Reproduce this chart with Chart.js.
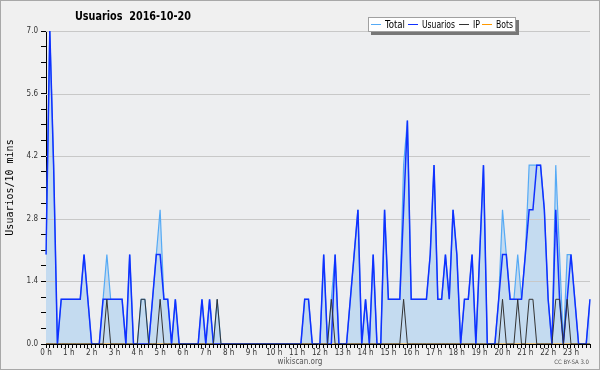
<!DOCTYPE html>
<html>
<head>
<meta charset="utf-8">
<script src="https://cdn.jsdelivr.net/npm/chart.js@4"></script>
<style>
  html, body { margin: 0; padding: 0; background: #f0f0f0; }
</style>
</head>
<body>
<canvas id="chart" width="600" height="370"></canvas>
<script>
// 10-minute slots over the day, 00:00 .. 23:50
const categories = [];
for (let h = 0; h < 24; h++) {
  for (let m = 0; m < 60; m += 10) categories.push(h + ':' + (m < 10 ? '0' : '') + m);
}

const totalValues = [
  2,7,4,0,1,1,1,1,1,1,2,1,
  0,0,0,1,2,1,1,1,1,0,2,0,
  0,1,1,0,1,2,3,1,1,0,1,0,
  0,0,0,0,0,1,0,1,0,1,0,0,
  0,0,0,0,0,0,0,0,0,0,0,0,
  0,0,0,0,0,0,0,0,1,1,0,0,
  0,2,0,1,2,0,0,0,1,2,3,0,
  1,0,2,0,0,3,1,1,1,1,4,5,
  1,1,1,1,1,2,4,1,1,2,1,3,
  2,0,1,1,2,0,2,4,0,0,0,1,
  3,2,1,1,2,1,2,4,4,4,4,3,
  1,0,4,2,0,2,2,1,0,0,0,1
];
const usuariosValues = [
  2,7,4,0,1,1,1,1,1,1,2,1,
  0,0,0,1,1,1,1,1,1,0,2,0,
  0,0,0,0,1,2,2,1,1,0,1,0,
  0,0,0,0,0,1,0,1,0,0,0,0,
  0,0,0,0,0,0,0,0,0,0,0,0,
  0,0,0,0,0,0,0,0,1,1,0,0,
  0,2,0,0,2,0,0,0,1,2,3,0,
  1,0,2,0,0,3,1,1,1,1,3,5,
  1,1,1,1,1,2,4,1,1,2,1,3,
  2,0,1,1,2,0,2,4,0,0,0,1,
  2,2,1,1,1,1,2,3,3,4,4,3,
  1,0,3,1,0,1,2,1,0,0,0,1
];
const ipValues = [
  0,0,0,0,0,0,0,0,0,0,0,0,
  0,0,0,0,1,0,0,0,0,0,0,0,
  0,1,1,0,0,0,1,0,0,0,0,0,
  0,0,0,0,0,0,0,0,0,1,0,0,
  0,0,0,0,0,0,0,0,0,0,0,0,
  0,0,0,0,0,0,0,0,0,0,0,0,
  0,0,0,1,0,0,0,0,0,0,0,0,
  0,0,0,0,0,0,0,0,0,0,1,0,
  0,0,0,0,0,0,0,0,0,0,0,0,
  0,0,0,0,0,0,0,0,0,0,0,0,
  1,0,0,0,1,0,0,1,1,0,0,0,
  0,0,1,1,0,1,0,0,0,0,0,0
];
const botsValues = [
  0,0,0,0,0,0,0,0,0,0,0,0,
  0,0,0,0,0,0,0,0,0,0,0,0,
  0,0,0,0,0,0,0,0,0,0,0,0,
  0,0,0,0,0,0,0,0,0,0,0,0,
  0,0,0,0,0,0,0,0,0,0,0,0,
  0,0,0,0,0,0,0,0,0,0,0,0,
  0,0,0,0,0,0,0,0,0,0,0,0,
  0,0,0,0,0,0,0,0,0,0,0,0,
  0,0,0,0,0,0,0,0,0,0,0,0,
  0,0,0,0,0,0,0,0,0,0,0,0,
  0,0,0,0,0,0,0,0,0,0,0,0,
  0,0,0,0,0,0,0,0,0,0,0,0
];
const yTicks = [0, 1.4, 2.8, 4.2, 5.6, 7.0];

const COND = '"DejaVu Sans Condensed", "DejaVu Sans", sans-serif';
const legendItems = [
  { text: 'Total', color: '#55aaf5', x: 371, w: 20 },
  { text: 'Usuarios', color: '#1030ff', x: 408, w: 33 },
  { text: 'IP', color: '#333333', x: 459, w: 7 },
  { text: 'Bots', color: '#ff9900', x: 482, w: 17 }
];

const isMajor = v => Math.abs(v / 1.4 - Math.round(v / 1.4)) < 1e-6;

const frame = {
  id: 'frame',
  beforeDraw(chart) {
    const { ctx, chartArea: a } = chart;
    ctx.save();
    ctx.fillStyle = '#f0f0f0';
    ctx.fillRect(0, 0, chart.width, chart.height);
    ctx.strokeStyle = '#a8a8a8';
    ctx.strokeRect(0.5, 0.5, chart.width - 1, chart.height - 1);
    ctx.fillStyle = '#edeef0';
    ctx.fillRect(a.left, a.top, a.right - a.left, a.bottom - a.top);
    ctx.restore();
  },
  // grid lines show through the filled area, under the lines
  beforeDatasetsDraw(chart) {
    const { ctx, chartArea: a, scales } = chart;
    ctx.save();
    ctx.strokeStyle = '#c8c8c8';
    ctx.lineWidth = 1;
    yTicks.forEach(v => {
      if (v === 0) return;
      const y = Math.round(scales.y.getPixelForValue(v)) + 0.5;
      ctx.beginPath();
      ctx.moveTo(a.left, y);
      ctx.lineTo(a.right, y);
      ctx.stroke();
    });
    ctx.restore();
  },
  afterDraw(chart) {
    const ctx = chart.ctx;
    ctx.save();
    // title
    ctx.fillStyle = '#000';
    ctx.textBaseline = 'middle';
    ctx.font = 'bold 13px ' + COND;
    ctx.fillText('Usuarios  2016-10-20', 75, 17, 116);
    // legend box with shadow
    ctx.fillStyle = '#777777';
    ctx.fillRect(371, 20, 148, 15);
    ctx.fillStyle = '#ffffff';
    ctx.fillRect(368, 17, 148, 15);
    ctx.strokeStyle = '#a0a0a0';
    ctx.strokeRect(368.5, 17.5, 147, 14);
    ctx.font = '10px ' + COND;
    legendItems.forEach(it => {
      ctx.strokeStyle = it.color;
      ctx.lineWidth = 1;
      ctx.beginPath();
      ctx.moveTo(it.x, 24.5);
      ctx.lineTo(it.x + 10, 24.5);
      ctx.stroke();
      ctx.fillStyle = '#000';
      ctx.fillText(it.text, it.x + 14, 25, it.w);
    });
    // footer
    ctx.fillStyle = '#555';
    ctx.font = '8px ' + COND;
    ctx.textAlign = 'center';
    ctx.fillText('wikiscan.org', 300, 362);
    ctx.font = '6px ' + COND;
    ctx.textAlign = 'right';
    ctx.fillText('CC BY-SA 3.0', 589, 362);
    ctx.restore();
  }
};

new Chart(document.getElementById('chart'), {
  type: 'line',
  data: {
    labels: categories,
    datasets: [
      {
        label: 'IP',
        data: ipValues,
        borderColor: '#333333',
        borderWidth: 1,
        order: 1
      },
      {
        label: 'Usuarios',
        data: usuariosValues,
        borderColor: '#1030ff',
        borderWidth: 1.5,
        order: 2
      },
      {
        label: 'Total',
        data: totalValues,
        borderColor: '#55aaf5',
        backgroundColor: 'rgb(196,219,240)',
        borderWidth: 1.2,
        fill: 'origin',
        order: 3
      },
      {
        label: 'Bots',
        data: botsValues,
        borderColor: '#ff9900',
        borderWidth: 1,
        order: 4
      }
    ]
  },
  options: {
    responsive: false,
    animation: false,
    events: [],
    elements: { point: { radius: 0 }, line: { tension: 0 } },
    layout: { padding: { top: 31, right: 10, left: 0, bottom: 0 } },
    plugins: {
      legend: { display: false },
      title: { display: false },
      tooltip: { enabled: false },
      filler: { drawTime: 'beforeDatasetsDraw' }
    },
    scales: {
      x: {
        type: 'category',
        offset: false,
        z: 1,
        afterFit: s => { s.height = 26; },
        border: { color: '#000', width: 1 },
        grid: { drawOnChartArea: false, tickLength: 4, tickColor: '#000' },
        ticks: {
          autoSkip: false,
          maxRotation: 0,
          padding: 0,
          color: '#333',
          font: { family: COND, size: 8 },
          callback: (v, i) => (i % 6 === 0 ? (i / 6) + ' h' : '')
        }
      },
      y: {
        min: 0,
        max: 7,
        afterFit: s => { s.width = 46; },
        afterBuildTicks: s => {
          const t = [];
          for (let k = 0; k <= 20; k++) t.push({ value: +(k * 0.35).toFixed(2) });
          s.ticks = t;
        },
        border: { color: '#000', width: 1 },
        grid: { drawOnChartArea: false, tickLength: 5, tickColor: '#000' },
        ticks: {
          padding: 3,
          color: '#333',
          font: { family: COND, size: 8 },
          callback: v => (isMajor(v) ? v.toFixed(1) : '')
        },
        title: {
          display: true,
          text: 'Usuarios/10 mins',
          color: '#000',
          font: { family: '"DejaVu Sans Mono", monospace', size: 10 },
          padding: { top: 4, bottom: 0 }
        }
      }
    }
  },
  plugins: [frame]
});
</script>
</body>
</html>
